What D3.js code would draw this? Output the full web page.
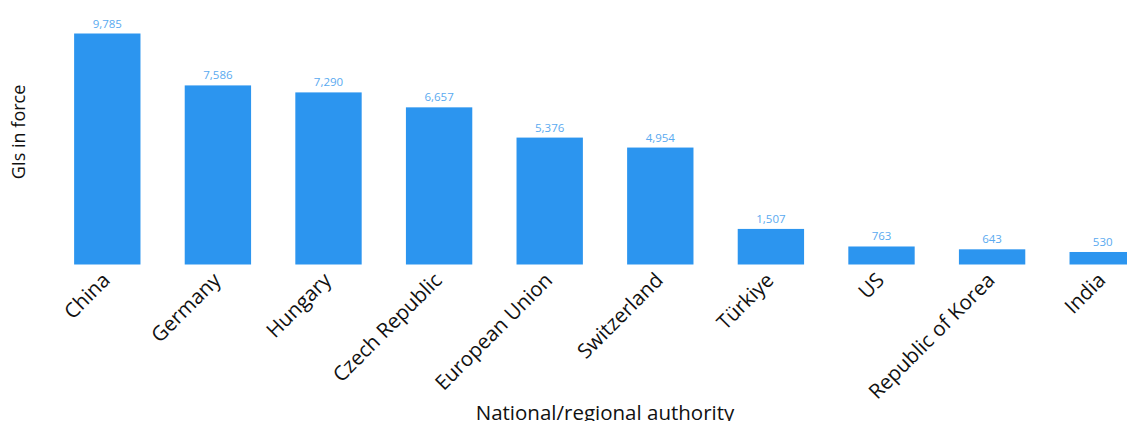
<!DOCTYPE html>
<html>
<head>
<meta charset="utf-8">
<script src="https://cdn.jsdelivr.net/npm/d3@7"></script>
<style>
  body { margin: 0; background: #fff; overflow: hidden; }
  text { font-family: "Open Sans", "Noto Sans", sans-serif; }
</style>
</head>
<body>
<div id="graph"></div>
<script>
var authorities = ["China", "Germany", "Hungary", "Czech Republic", "European Union",
                   "Switzerland", "Türkiye", "US", "Republic of Korea", "India"];
var gisInForce = [9785, 7586, 7290, 6657, 5376, 4954, 1507, 763, 643, 530];

var svgWidth = 1127, svgHeight = 421;

// plot area (right side runs past the window, as in the reference)
var chartMargin = { top: 33.5, left: 52 };
var chartWidth = 1106;
var chartHeight = 231;

var svg = d3.select("#graph").append("svg")
  .attr("width", svgWidth)
  .attr("height", svgHeight);

var chartGroup = svg.append("g")
  .attr("transform", `translate(${chartMargin.left}, ${chartMargin.top})`);

var x = d3.scaleBand()
  .domain(authorities)
  .range([0, chartWidth])
  .paddingInner(0.4)
  .paddingOuter(0.2);

var y = d3.scaleLinear()
  .domain([0, 9785])
  .range([chartHeight, 0]);

var data = authorities.map(function (name, i) {
  return { name: name, value: gisInForce[i] };
});

chartGroup.selectAll("rect.bar")
  .data(data)
  .enter().append("rect")
  .attr("class", "bar")
  .attr("x", d => x(d.name))
  .attr("y", d => y(d.value))
  .attr("width", x.bandwidth())
  .attr("height", d => chartHeight - y(d.value))
  .attr("fill", "#2c95ef");

chartGroup.selectAll("text.val")
  .data(data)
  .enter().append("text")
  .attr("class", "val")
  .attr("x", d => x(d.name) + x.bandwidth() / 2)
  .attr("y", d => y(d.value) - 6)
  .attr("text-anchor", "middle")
  .style("font-size", "11.5px")
  .attr("fill", "#5aaaf0")
  .text(d => d3.format(",")(d.value));

var xAxis = chartGroup.append("g")
  .attr("transform", `translate(0, ${chartHeight})`)
  .call(d3.axisBottom(x).tickSize(0).tickPadding(0));

xAxis.select(".domain").remove();
xAxis.selectAll("text")
  .style("font-size", "20.5px")
  .attr("fill", "#111")
  .attr("text-anchor", "end")
  .attr("dy", 0)
  .attr("y", 0)
  .attr("transform", "translate(4, 17) rotate(-45)");

// axis titles
svg.append("text")
  .attr("transform", "translate(25, 132) rotate(-90)")
  .attr("text-anchor", "middle")
  .style("font-size", "18px")
  .attr("fill", "#111")
  .text("GIs in force");

svg.append("text")
  .attr("x", 605)
  .attr("y", 420)
  .attr("text-anchor", "middle")
  .style("font-size", "20.5px")
  .attr("fill", "#111")
  .text("National/regional authority");
</script>
</body>
</html>
